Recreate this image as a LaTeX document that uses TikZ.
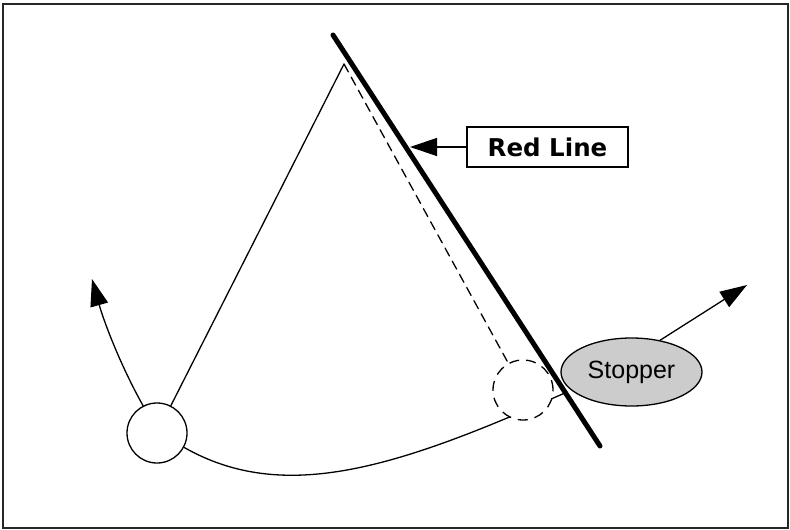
\documentclass[tikz,border=0pt]{standalone}
\usepackage{fontspec}
\setmainfont{Liberation Sans}
\newfontfamily\heavyfont{DejaVu Sans}
\usetikzlibrary{arrows.meta,shapes.geometric}
\definecolor{stoppergray}{RGB}{204,204,204}
\begin{document}
\begin{tikzpicture}[x=1pt,y=-1pt,
  thinline/.style={line width=1.3pt, line cap=round},
  bigtip/.style={-{Triangle[length=27pt,width=18pt]}},
  ballnode/.style={circle, draw, line width=1.3pt, minimum size=60pt, inner sep=0pt},
  ghostnode/.style={circle, draw, line width=1.3pt, minimum size=60pt, inner sep=0pt, fill=white, dash pattern=on 10pt off 7pt},
  labelbox/.style={draw, line width=1.3pt, minimum width=161pt, minimum height=40pt, inner sep=0pt, font=\heavyfont\bfseries\fontsize{24.5}{28}\selectfont},
  stopnode/.style={ellipse, draw, line width=1.3pt, fill=stoppergray, minimum width=141pt, minimum height=68pt, inner sep=0pt, font=\fontsize{25}{30}\selectfont}
]
\useasboundingbox (0,0) rectangle (790,530);
\draw[line width=2pt, black!85] (2.7,3.7) rectangle (788,528);

\coordinate (pivot) at (344,64);
\coordinate (contact) at (567,392);
\coordinate (lefttip) at (92,279);
\coordinate (stoptip) at (747,285);
\coordinate (redtip) at (410,147);
\coordinate (rltop) at (333,35);
\coordinate (rlbot) at (600,446);

\node[ballnode] (ball) at (157,433) {};

% trajectory
\draw[thinline] (ball.-28) .. controls +(100,57) and +(-170,76) .. (contact);

\node[ghostnode] (ghost) at (523,390) {};

\draw[thinline] (pivot) -- (ball);
\draw[thinline, dash pattern=on 9pt off 6pt] (pivot) -- (ghost);

\draw[thinline, bigtip] (ball.117) .. controls +(-22,-39) and +(12,43) .. (lefttip);

\node[stopnode] (stopper) at (631.5,372) {Stopper};
\draw[thinline, bigtip] (stopper.48) -- (stoptip);

\draw[line width=5pt, line cap=round] (rltop) -- (rlbot);

\node[labelbox] (redbox) at (547.5,147) {Red Line};
\draw[thinline, bigtip] (redbox.west) -- (redtip);
\end{tikzpicture}
\end{document}
